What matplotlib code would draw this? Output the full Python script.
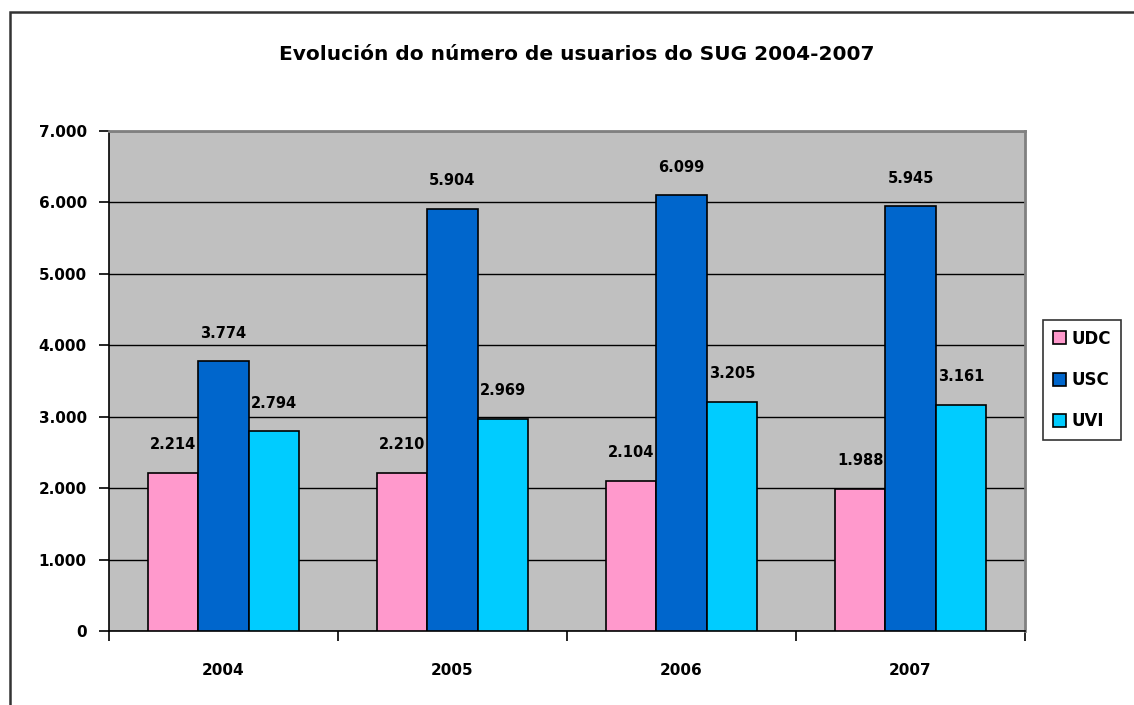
import matplotlib.pyplot as plt
import numpy as np
from matplotlib.patches import Rectangle
from matplotlib.ticker import FuncFormatter

anos = ['2004', '2005', '2006', '2007']
udc = [2214, 2210, 2104, 1988]
usc = [3774, 5904, 6099, 5945]
uvi = [2794, 2969, 3205, 3161]
series = [('UDC', udc, '#FF99CC'), ('USC', usc, '#0066CC'), ('UVI', uvi, '#00CCFF')]


def miles(v, pos=None):
    return f"{int(round(v)):,}".replace(',', '.')


def main():
    plt.rcParams['font.family'] = ['DejaVu Sans']
    plt.rcParams['font.weight'] = 'bold'
    fig = plt.figure(figsize=(11.34, 7.05), dpi=100)
    ax = fig.add_axes([0.0961, 0.1050, 0.8078, 0.7092])
    ax.set_facecolor('#C0C0C0')

    # marco exterior do grafico
    fig.patches.append(Rectangle((10 / 1134, -0.05), 1.2, 1 - 12 / 705 + 0.05,
                                 transform=fig.transFigure, fill=False,
                                 edgecolor='#333333', linewidth=1.8))

    x = np.arange(len(anos))
    w = 0.22
    for i, (nome, vals, cor) in enumerate(series):
        pos = x + (i - 1) * w
        bars = ax.bar(pos, vals, w, color=cor, edgecolor='black', linewidth=1.2,
                      label=nome, zorder=3)
        for b, v in zip(bars, vals):
            ax.annotate(miles(v), (b.get_x() + b.get_width() / 2, v),
                        xytext=(0, 15), textcoords='offset points',
                        ha='center', va='bottom', fontsize=10.5, fontweight='bold')

    ax.set_xlim(-0.5, 3.5)
    ax.set_ylim(0, 7000)
    ax.set_yticks(range(0, 7001, 1000))
    ax.yaxis.set_major_formatter(FuncFormatter(miles))
    ax.yaxis.grid(True, color='black', linewidth=1.0, zorder=0)
    ax.set_axisbelow(True)

    ax.set_xticks([-0.5, 0.5, 1.5, 2.5, 3.5])
    ax.set_xticklabels([])
    ax.set_xticks(x, minor=True)
    ax.set_xticklabels(anos, minor=True)
    ax.tick_params(axis='x', which='minor', length=0, pad=23, labelsize=11)
    ax.tick_params(axis='x', which='major', length=7, width=1.2, direction='out')
    ax.tick_params(axis='y', length=7, width=1.2, direction='out', pad=9, labelsize=11)
    for lab in ax.get_yticklabels() + ax.get_xticklabels(minor=True):
        lab.set_fontweight('bold')

    ax.spines['left'].set_color('black')
    ax.spines['bottom'].set_color('black')
    ax.spines['left'].set_linewidth(1.2)
    ax.spines['bottom'].set_linewidth(1.2)
    ax.spines['top'].set_color('#808080')
    ax.spines['right'].set_color('#808080')
    ax.spines['top'].set_linewidth(2)
    ax.spines['right'].set_linewidth(2)

    fig.text(577 / 1134, 1 - 55 / 705, 'Evolución do número de usuarios do SUG 2004-2007',
             ha='center', va='center', fontsize=14.5, fontweight='bold')

    leg = ax.legend(loc='center left', bbox_to_anchor=(1043 / 1134, 1 - 380 / 705),
                    bbox_transform=fig.transFigure, frameon=True, fancybox=False,
                    edgecolor='black', handlelength=0.8, handleheight=0.8,
                    handletextpad=0.3, labelspacing=1.4, borderpad=0.6,
                    borderaxespad=0, prop={'weight': 'bold', 'size': 12})
    leg.get_frame().set_linewidth(1.2)

    plt.savefig('out.png', dpi=100)
    plt.close()


if __name__ == '__main__':
    main()
